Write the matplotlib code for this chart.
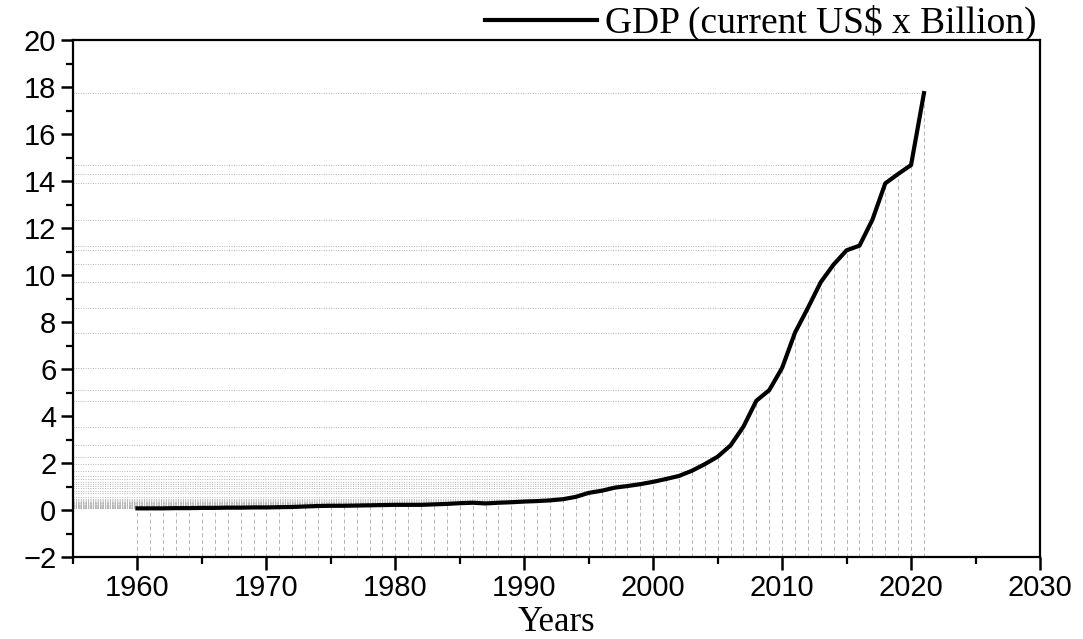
import numpy as np
import matplotlib
matplotlib.use("Agg")
import matplotlib.pyplot as plt
from matplotlib.ticker import MultipleLocator

# GDP (current US$ x Billion)
years = list(range(1960, 2022))
gdp = [0.07, 0.07, 0.07, 0.08, 0.08, 0.09, 0.09, 0.10, 0.10, 0.11,
       0.11, 0.12, 0.13, 0.15, 0.17, 0.18, 0.18, 0.19, 0.20, 0.21,
       0.22, 0.22, 0.22, 0.24, 0.26, 0.29, 0.31, 0.28, 0.31, 0.33,
       0.36, 0.38, 0.41, 0.46, 0.56, 0.73, 0.82, 0.95, 1.02, 1.10,
       1.20, 1.32, 1.45, 1.67, 1.95, 2.27, 2.75, 3.55, 4.65, 5.10,
       6.05, 7.55, 8.60, 9.70, 10.45, 11.05, 11.25, 12.35, 13.90, 14.30,
       14.68, 17.74]

x_min, x_max = 1955, 2030
y_min, y_max = -2, 20

fig = plt.figure(figsize=(10.83, 6.39), dpi=100)
ax = fig.add_axes([0.0674, 0.1283, 0.8929, 0.8091])

# drop lines to the axes
for yr, v in zip(years, gdp):
    ax.plot([yr, yr], [y_min, v], color='#b5b5b5', lw=0.7,
            linestyle=(0, (4, 3)), zorder=1)
    ax.plot([x_min, yr], [v, v], color='#b5b5b5', lw=0.7,
            linestyle=(0, (1, 1.5)), zorder=1)

ax.plot(years, gdp, color='black', lw=3.0, solid_joinstyle='round',
        label='GDP (current US$ x Billion)', zorder=3)

ax.set_xlim(x_min, x_max)
ax.set_ylim(y_min, y_max)
ax.xaxis.set_major_locator(MultipleLocator(10))
ax.xaxis.set_minor_locator(MultipleLocator(5))
ax.yaxis.set_major_locator(MultipleLocator(2))
ax.yaxis.set_minor_locator(MultipleLocator(1))
ax.set_xticks(range(1960, 2031, 10))

for s in ax.spines.values():
    s.set_linewidth(1.6)
ax.tick_params(which='major', direction='out', length=9, width=1.8,
               labelsize=21, pad=3, top=False, right=False)
ax.tick_params(which='minor', direction='out', length=5, width=1.6,
               top=False, right=False)
for lab in ax.get_xticklabels() + ax.get_yticklabels():
    lab.set_fontfamily('Liberation Sans')

ax.set_xlabel('Years', fontfamily='Liberation Serif', fontsize=25, labelpad=3)

leg = ax.legend(loc='lower right', bbox_to_anchor=(1.0, 0.99), frameon=False,
                handlelength=3.0, handletextpad=0.2, borderaxespad=0,
                borderpad=0.1,
                prop={'family': 'Liberation Serif', 'size': 27})

fig.savefig('out.png', dpi=100)
